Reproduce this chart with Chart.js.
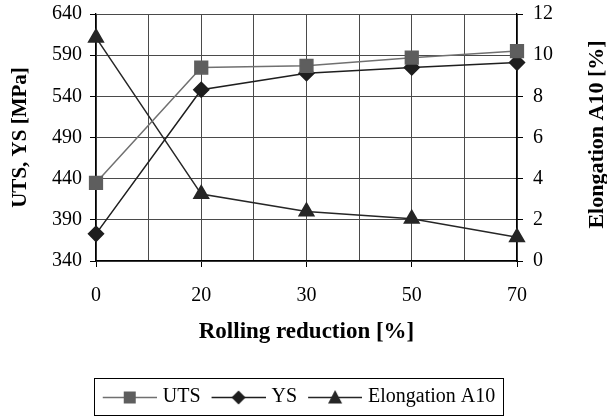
<!DOCTYPE html>
<html>
<head>
<meta charset="utf-8">
<script src="https://cdn.jsdelivr.net/npm/chart.js@4.4.0/dist/chart.umd.min.js"></script>
<style>
html, body { margin: 0; padding: 0; background: #fff; }
#wrap { width: 607px; height: 417px; }
</style>
</head>
<body>
<div id="wrap"><canvas id="chart" width="607" height="417"></canvas></div>
<script>
// データ
const reductions = ['0', '20', '30', '50', '70'];
const uts = [435, 575, 577, 587, 595];
const ys = [373, 548, 568, 575, 581];
const elongation = [10.85, 3.25, 2.4, 2.05, 1.15];
const leftTicks = [340, 390, 440, 490, 540, 590, 640];
const rightTicks = [0, 2, 4, 6, 8, 10, 12];

const FONT = "Liberation Serif";
const PAD_BOTTOM = 0;

// 凡例用のアイコン（線＋マーカー）
function legendIcon(style, fill, line) {
    const c = document.createElement('canvas');
    c.width = 59; c.height = 18;
    const ctx = c.getContext('2d');
    const x0 = 5, mid = x0 + 27;
    ctx.strokeStyle = line;
    ctx.lineWidth = 1.3;
    ctx.beginPath();
    ctx.moveTo(x0, 9.5); ctx.lineTo(x0 + 54, 9.5);
    ctx.stroke();
    ctx.fillStyle = fill;
    ctx.beginPath();
    if (style === 'rect') {
        ctx.rect(mid - 6, 3.5, 12, 12);
    } else if (style === 'rectRot') {
        ctx.moveTo(mid, 2.5); ctx.lineTo(mid + 7, 9.5); ctx.lineTo(mid, 16.5); ctx.lineTo(mid - 7, 9.5);
    } else {
        ctx.moveTo(mid, 2); ctx.lineTo(mid + 7, 15.5); ctx.lineTo(mid - 7, 15.5);
    }
    ctx.closePath();
    ctx.fill();
    return c;
}

// 凡例の枠と右軸タイトル
const extras = {
    id: 'extras',
    afterDraw(chart) {
        const ctx = chart.ctx;
        const boxes = chart.legend.legendHitBoxes;
        if (boxes && boxes.length) {
            let l = Infinity, r = -Infinity, t = Infinity, b = -Infinity;
            boxes.forEach(h => {
                l = Math.min(l, h.left); r = Math.max(r, h.left + h.width);
                t = Math.min(t, h.top); b = Math.max(b, h.top + h.height);
            });
            ctx.save();
            ctx.strokeStyle = '#000';
            ctx.lineWidth = 1;
            ctx.strokeRect(Math.round(l - 8) + 0.5, Math.round(t - 9) + 0.5,
                Math.round(r - l + 15), Math.round(b - t + 17));
            ctx.restore();
        }
        const area = chart.chartArea;
        ctx.save();
        ctx.translate(597, (area.top + area.bottom) / 2 - 3);
        ctx.rotate(-Math.PI / 2);
        ctx.font = "bold 22px '" + FONT + "'";
        ctx.fillStyle = '#000';
        ctx.textAlign = 'center';
        ctx.textBaseline = 'middle';
        ctx.fillText('Elongation A10 [%]', 0, 0);
        ctx.restore();
    }
};

const pts = arr => arr.map((v, i) => ({ x: i, y: v }));

// 縦軸の幅を固定し、ラベルのはみ出し分の余白をなくす
function fixWidth(w) {
    return s => {
        s.width = w;
        s.paddingTop = 0;
        s.paddingBottom = 0;
    };
}

function draw() {
    const icons = [
        legendIcon('rect', '#5e5e5e', '#707070'),
        legendIcon('rectRot', '#1e1e1e', '#1e1e1e'),
        legendIcon('triangle', '#262626', '#262626')
    ];
    new Chart(document.getElementById('chart').getContext('2d'), {
        type: 'line',
        data: {
            datasets: [{
                label: 'UTS',
                data: pts(uts),
                borderColor: '#707070',
                backgroundColor: '#5e5e5e',
                pointBackgroundColor: '#5e5e5e',
                pointBorderColor: '#5e5e5e',
                pointStyle: 'rect',
                pointRadius: 9,
                borderWidth: 1.5,
                yAxisID: 'y',
                clip: false
            }, {
                label: 'YS',
                data: pts(ys),
                borderColor: '#1e1e1e',
                backgroundColor: '#1e1e1e',
                pointBackgroundColor: '#1e1e1e',
                pointBorderColor: '#1e1e1e',
                pointStyle: 'rectRot',
                pointRadius: 7.5,
                borderWidth: 1.5,
                yAxisID: 'y',
                clip: false
            }, {
                label: 'Elongation A10',
                data: pts(elongation),
                borderColor: '#262626',
                backgroundColor: '#262626',
                pointBackgroundColor: '#262626',
                pointBorderColor: '#262626',
                pointStyle: 'triangle',
                pointRadius: 8.5,
                borderWidth: 1.5,
                yAxisID: 'y2',
                clip: false
            }]
        },
        options: {
            responsive: false,
            animation: false,
            events: [],
            layout: { padding: { top: 14, left: 0, right: 10, bottom: PAD_BOTTOM } },
            scales: {
                x: {
                    type: 'linear',
                    min: 0,
                    max: reductions.length - 1,
                    afterBuildTicks: s => {
                        const t = [];
                        for (let v = 0; v <= reductions.length - 1; v += 0.5) t.push({ value: v });
                        s.ticks = t;
                    },
                    afterFit: s => {
                        s.height = 417 - PAD_BOTTOM - s.chart.legend.height - 261;
                        s.paddingLeft = 0;
                        s.paddingRight = 0;
                    },
                    ticks: {
                        autoSkip: false,
                        maxRotation: 0,
                        padding: 17,
                        color: '#000',
                        font: { family: FONT, size: 20 },
                        callback: v => Number.isInteger(v) ? reductions[v] : ''
                    },
                    grid: {
                        color: '#4a4a4a',
                        lineWidth: 1,
                        tickLength: 6,
                        tickColor: c => (c.tick && Number.isInteger(c.tick.value)) ? '#000' : 'rgba(0,0,0,0)'
                    },
                    border: { color: '#000', width: 1.3 },
                    title: {
                        display: true,
                        text: 'Rolling reduction [%]',
                        color: '#000',
                        font: { family: FONT, size: 23, weight: 'bold' },
                        padding: { top: 12, bottom: 31 }
                    }
                },
                y: {
                    position: 'left',
                    min: 340,
                    max: 640,
                    afterBuildTicks: s => { s.ticks = leftTicks.map(v => ({ value: v })); },
                    afterFit: fixWidth(96),
                    ticks: {
                        padding: 8,
                        color: '#000',
                        font: { family: FONT, size: 20 }
                    },
                    grid: { color: '#4a4a4a', lineWidth: 1, tickLength: 6, tickColor: '#000' },
                    border: { color: '#000', width: 1.3 },
                    title: {
                        display: true,
                        text: 'UTS, YS [MPa]',
                        color: '#000',
                        font: { family: FONT, size: 21, weight: 'bold' },
                        padding: { top: 8, bottom: 0 }
                    }
                },
                y2: {
                    position: 'right',
                    min: 0,
                    max: 12,
                    afterBuildTicks: s => { s.ticks = rightTicks.map(v => ({ value: v })); },
                    afterFit: fixWidth(80),
                    ticks: {
                        padding: 10,
                        color: '#000',
                        font: { family: FONT, size: 20 }
                    },
                    grid: { drawOnChartArea: false, tickLength: 6, tickColor: '#000' },
                    border: { color: '#000', width: 1.3 }
                }
            },
            plugins: {
                tooltip: { enabled: false },
                legend: {
                    position: 'bottom',
                    labels: {
                        usePointStyle: true,
                        pointStyleWidth: 51,
                        padding: 10,
                        color: '#000',
                        font: { family: FONT, size: 20 },
                        generateLabels: chart => chart.data.datasets.map((ds, i) => ({
                            text: ds.label,
                            pointStyle: icons[i],
                            fillStyle: 'rgba(0,0,0,0)',
                            strokeStyle: 'rgba(0,0,0,0)',
                            lineWidth: 0,
                            datasetIndex: i,
                            hidden: false
                        }))
                    }
                }
            }
        },
        plugins: [extras]
    });
}

Promise.all([
    document.fonts.load("20px '" + FONT + "'"),
    document.fonts.load("bold 20px '" + FONT + "'")
]).then(draw, draw);
</script>
</body>
</html>
